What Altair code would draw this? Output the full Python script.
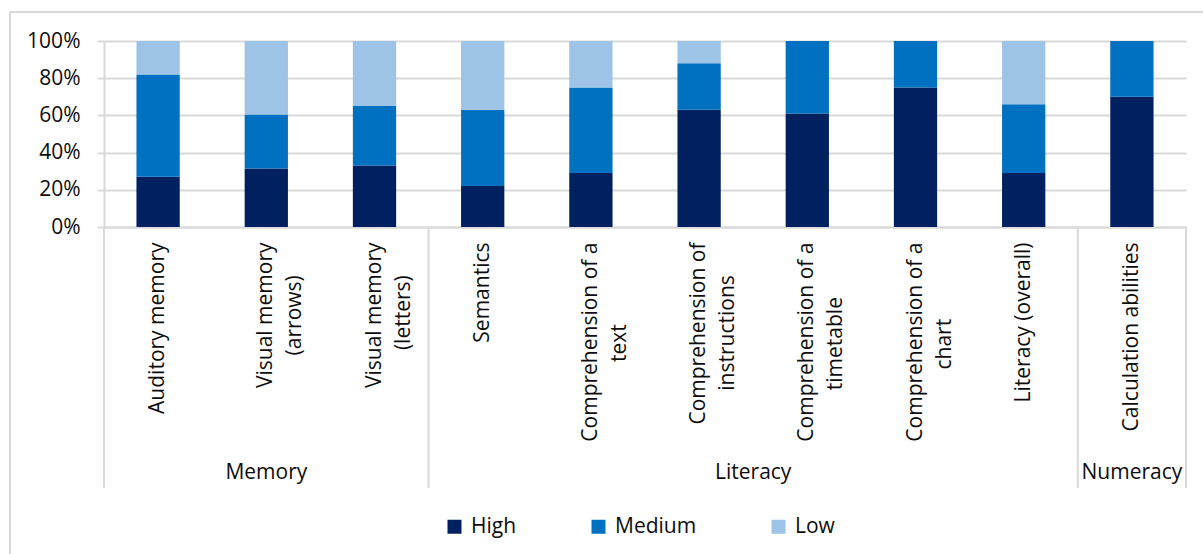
import altair as alt
import pandas as pd

# ---------------- data ----------------
categories = [
    "Auditory memory",
    "Visual memory\n(arrows)",
    "Visual memory\n(letters)",
    "Semantics",
    "Comprehension of a\ntext",
    "Comprehension of\ninstructions",
    "Comprehension of a\ntimetable",
    "Comprehension of a\nchart",
    "Literacy (overall)",
    "Calculation abilities",
]
category_groups = ["Memory"] * 3 + ["Literacy"] * 6 + ["Numeracy"]
groups = ["Memory", "Literacy", "Numeracy"]
levels = ["High", "Medium", "Low"]
high = [27, 31.5, 33, 22, 29, 63, 61, 75, 29, 70]
medium = [55, 29, 32, 41, 46, 25, 39, 25, 37, 30]
low = [18, 39.5, 35, 37, 25, 12, 0, 0, 34, 0]
colors = ["#002060", "#0070C0", "#9DC3E6"]

FONT = "Open Sans"
FS = 21
TXT = "#0d0d0d"
GRID = "#d9d9d9"

# approximate Open Sans advance widths (em) to centre the second line of
# two-line labels (Excel centres the lines; Vega aligns all lines alike)
W = {"a": .556, "b": .613, "c": .48, "d": .613, "e": .561, "f": .336, "g": .546,
     "h": .614, "i": .258, "l": .258, "m": .929, "n": .614, "o": .602, "p": .613,
     "r": .408, "s": .477, "t": .353, "u": .614, "v": .5, "w": .778, "x": .5,
     "y": .5, " ": .26, "(": .296, ")": .296, "C": .631, "V": .591}
NBSP = "\u00a0"
ZWSP = "\u200b"  # keeps the trailing no-break spaces from being trimmed


def width(s):
    return sum(W.get(ch, .55) for ch in s)


def centred(label):
    lines = label.split("\n")
    if len(lines) == 1:
        return label
    wmax = max(width(l) for l in lines)
    out = []
    for l in lines:
        k = int(round((wmax - width(l)) / 2 / W[" "]))
        out.append(l + (NBSP * k + ZWSP if k > 0 else ""))
    return "\n".join(out)


labels = [centred(c) for c in categories]

rows = []
for i, lab in enumerate(labels):
    for k, (lvl, vals) in enumerate(zip(levels, [high, medium, low])):
        rows.append({"category": lab, "level": lvl, "order": k, "value": vals[i]})
df = pd.DataFrame(rows)

# group boundaries and centres, on a 0..n linear scale aligned with the bands
n = len(categories)
bounds = [0]
centres = []
for g in groups:
    cnt = category_groups.count(g)
    centres.append(bounds[-1] + cnt / 2)
    bounds.append(bounds[-1] + cnt)
div_df = pd.DataFrame({"pos": bounds})
grp_df = pd.DataFrame({"group": groups, "centre": centres})

PW, PH = 1082, 186

bars = alt.Chart(df).mark_bar().encode(
    x=alt.X(
        "category:N",
        sort=labels,
        scale=alt.Scale(paddingInner=0.6, paddingOuter=0.3),
        axis=alt.Axis(
            title=None, labelAngle=270, labelAlign="right", labelBaseline="middle",
            labelPadding=15, ticks=False, domainColor=GRID, domainWidth=2,
            labelLineHeight=29, labelExpr="split(datum.label, '\\n')",
            labelLimit=500, labelFontSize=FS, labelColor=TXT, labelFont=FONT,
        ),
    ),
    y=alt.Y(
        "value:Q",
        stack="zero",
        scale=alt.Scale(domain=[0, 100], nice=False),
        axis=alt.Axis(
            title=None, values=[0, 20, 40, 60, 80, 100], labelExpr="datum.value + '%'",
            tickSize=7, tickColor=GRID, tickWidth=2, labelPadding=17,
            gridColor=GRID, gridWidth=2, domainColor=GRID, domainWidth=2,
            labelFontSize=FS, labelColor=TXT, labelFont=FONT,
        ),
    ),
    color=alt.Color(
        "level:N",
        scale=alt.Scale(domain=levels, range=colors),
        legend=alt.Legend(
            title=None, orient="none", legendX=340, legendY=475, direction="horizontal",
            symbolType="square", symbolSize=196, symbolStrokeWidth=0,
            labelFontSize=FS, labelColor=TXT, labelFont=FONT,
            columnPadding=71, labelOffset=6, padding=0,
        ),
    ),
    order=alt.Order("order:Q", sort="ascending"),
)

lin = alt.Scale(domain=[0, n], nice=False, zero=False)

dividers = alt.Chart(div_df).mark_rule(color=GRID, strokeWidth=2).encode(
    x=alt.X("pos:Q", scale=lin, axis=None),
    y=alt.value(PH),
    y2=alt.value(PH + 261),
)

group_text = alt.Chart(grp_df).mark_text(
    fontSize=FS, font=FONT, color=TXT, baseline="middle", align="center"
).encode(
    x=alt.X("centre:Q", scale=lin, axis=None),
    y=alt.value(432),
    text="group:N",
)

frame_df = pd.DataFrame({"k": [0]})
frame_v = alt.Chart(frame_df).mark_rule(color=GRID, strokeWidth=2).encode(
    x=alt.value(-94), y=alt.value(-29), y2=alt.value(600)
)
frame_h = alt.Chart(frame_df).mark_rule(color=GRID, strokeWidth=2).encode(
    x=alt.value(-95), x2=alt.value(1200), y=alt.value(-29)
)

chart = (
    alt.layer(frame_v, frame_h, bars, dividers, group_text)
    .resolve_scale(x="independent")
    .properties(
        width=PW, height=PH,
        autosize=alt.AutoSizeParams(type="none"),
        padding={"left": 104, "top": 41, "right": 17, "bottom": 327},
        background="white",
    )
    .configure(font=FONT)
    .configure_view(stroke=None)
)

chart.save("out.html", embed_options={"renderer": "svg", "actions": False})
